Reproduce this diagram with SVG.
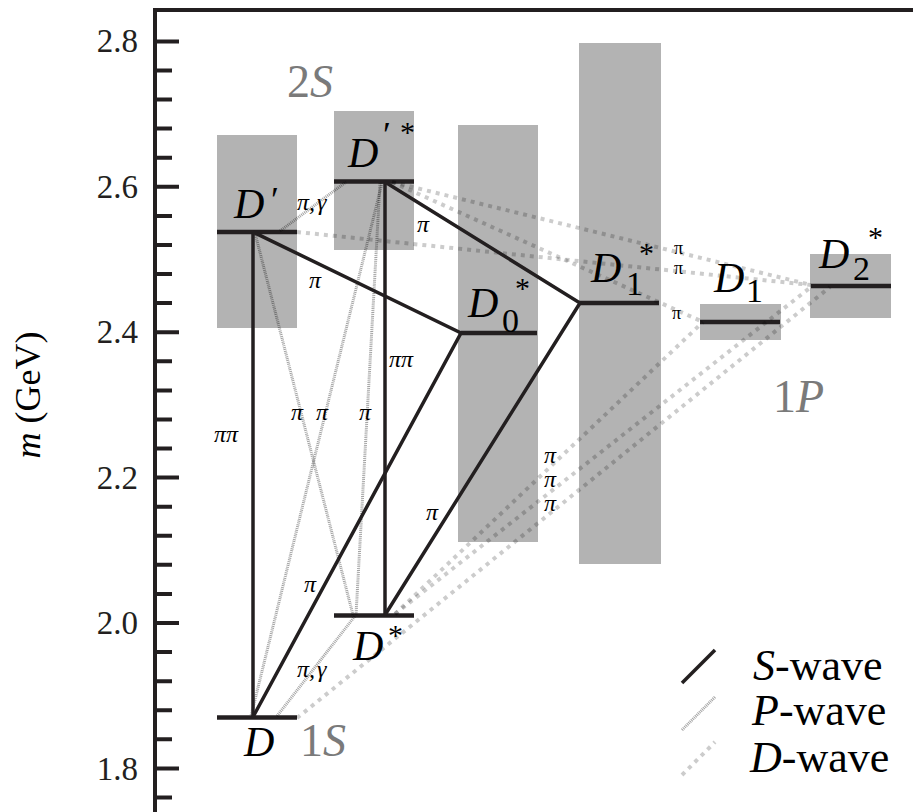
<svg xmlns="http://www.w3.org/2000/svg" width="913" height="812" viewBox="0 0 913 812">
<style>
.ax{stroke:#231f20;stroke-width:4;fill:none}
.box{fill:#b3b3b3}
.lvl{stroke:#231f20;stroke-width:4.5}
.s{stroke:#231f20;stroke-width:3.5;fill:none}
.p{stroke:#000;stroke-opacity:0.36;stroke-width:3;stroke-dasharray:1 0.9;fill:none}
.d{stroke:#000;stroke-opacity:0.2;stroke-width:4;stroke-dasharray:4 5;fill:none}
</style>

<g id="axes">
<path class="ax" d="M155 10 V812 M153 10 H913"/>
<path class="ax" d="M155 797.5h17M155 768.4h24M155 739.3h17M155 710.2h17M155 681.2h17M155 652.1h17M155 623h24M155 593.9h17M155 564.8h17M155 535.8h17M155 506.7h17M155 477.6h24M155 448.5h17M155 419.4h17M155 390.4h17M155 361.3h17M155 332.2h24M155 303.1h17M155 274h17M155 245h17M155 215.9h17M155 186.8h24M155 157.7h17M155 128.6h17M155 99.6h17M155 70.5h17M155 41.4h24"/>
<g font-family="Liberation Serif" font-size="33" fill="#231f20" text-anchor="end">
<text x="138" y="779.5">1.8</text>
<text x="138" y="634">2.0</text>
<text x="138" y="488.6">2.2</text>
<text x="138" y="343.2">2.4</text>
<text x="138" y="197.8">2.6</text>
<text x="138" y="52.4">2.8</text>
</g>
<text font-family="Liberation Serif" font-size="36" transform="translate(40,395) rotate(-90)" text-anchor="middle" fill="#000"><tspan font-style="italic">m</tspan> (GeV)</text>
</g>

<g id="group-labels" font-family="Liberation Serif" font-size="46" fill="#7a7a7a">
<text x="287" y="97">2<tspan font-style="italic">S</tspan></text>
<text x="300" y="756">1<tspan font-style="italic">S</tspan></text>
<text x="773" y="412">1<tspan font-style="italic">P</tspan></text>
</g>

<g id="node-Dp" font-family="Liberation Serif">
<rect class="box" x="217" y="135" width="80" height="193"/>
<line class="lvl" x1="217" y1="232" x2="297" y2="232"/>
<text font-style="italic" font-size="42" x="234" y="218">D</text>
<text font-size="36" x="271" y="212">′</text>
</g>

<g id="node-Dps" font-family="Liberation Serif">
<rect class="box" x="334" y="111" width="80" height="139"/>
<line class="lvl" x1="334" y1="181.5" x2="414" y2="181.5"/>
<text font-style="italic" font-size="42" x="348" y="167">D</text>
<text font-size="36" x="383" y="147">′</text>
<text font-size="30" x="400" y="142">*</text>
</g>

<g id="node-D0s" font-family="Liberation Serif">
<rect class="box" x="458" y="125" width="80" height="417"/>
<line class="lvl" x1="461" y1="333" x2="537" y2="333"/>
<text font-style="italic" font-size="42" x="468" y="317">D</text>
<text font-size="34" x="502" y="332">0</text>
<text font-size="30" x="515" y="298">*</text>
</g>

<g id="node-D1s" font-family="Liberation Serif">
<rect class="box" x="579" y="43" width="82" height="521"/>
<line class="lvl" x1="579" y1="303" x2="659" y2="303"/>
<text font-style="italic" font-size="42" x="591" y="282">D</text>
<text font-size="34" x="626" y="295">1</text>
<text font-size="30" x="639" y="263">*</text>
</g>

<g id="node-D1" font-family="Liberation Serif">
<rect class="box" x="700" y="304" width="81" height="36"/>
<line class="lvl" x1="700" y1="322" x2="780" y2="322"/>
<text font-style="italic" font-size="42" x="714" y="292">D</text>
<text font-size="34" x="746" y="302">1</text>
</g>

<g id="node-D2s" font-family="Liberation Serif">
<rect class="box" x="810" y="254" width="81" height="64"/>
<line class="lvl" x1="811" y1="286" x2="891" y2="286"/>
<text font-style="italic" font-size="42" x="819" y="268">D</text>
<text font-size="34" x="853" y="280">2</text>
<text font-size="30" x="868" y="247">*</text>
</g>

<g id="node-Ds" font-family="Liberation Serif">
<line class="lvl" x1="334" y1="615.5" x2="414" y2="615.5"/>
<text font-style="italic" font-size="42" x="353" y="660">D</text>
<text font-size="30" x="388" y="645">*</text>
</g>

<g id="node-D" font-family="Liberation Serif">
<line class="lvl" x1="217" y1="717.5" x2="297" y2="717.5"/>
<text font-style="italic" font-size="42" x="244" y="756">D</text>
</g>

<g id="connectors" font-family="Liberation Serif" font-size="24" font-style="italic">
<path class="d" d="M297 232 L811 285"/>
<path class="d" d="M392 182 L811 285"/>
<path class="d" d="M392 182 L703 322"/>
<path class="d" d="M297 718 L830 287"/>
<path class="d" d="M395 614 L811 287"/>
<path class="d" d="M395 614 L703 322"/>
<path class="p" d="M280 231 L346 182"/>
<path class="p" d="M277 716 L355 616"/>
<path class="p" d="M255 233 L353 615"/>
<path class="p" d="M382 183 L251 716"/>
<path class="p" d="M380 183 L356 615"/>
<path class="s" d="M253 232 V717"/>
<path class="s" d="M253 232 L461 333 L253 717"/>
<path class="s" d="M385 182 V615"/>
<path class="s" d="M385 182 L580 303 L385 615"/>
<text x="297" y="210">π,<tspan dx="2">γ</tspan></text>
<text x="417" y="232">π</text>
<text x="309" y="288">π</text>
<text x="389" y="367">ππ</text>
<text x="214" y="442">ππ</text>
<text x="291" y="420">π</text>
<text x="316" y="420">π</text>
<text x="359" y="420">π</text>
<text x="426" y="520">π</text>
<text x="304" y="592">π</text>
<text x="297" y="677">π,<tspan dx="2">γ</tspan></text>
<text x="544" y="463">π</text>
<text x="544" y="487">π</text>
<text x="544" y="511">π</text>
<text font-style="normal" font-size="18" x="674" y="254">π</text>
<text font-style="normal" font-size="18" x="674" y="274">π</text>
<text font-style="normal" font-size="18" x="672" y="319">π</text>
</g>

<g id="legend" font-family="Liberation Serif" font-size="44">
<line class="s" x1="682" y1="683" x2="715" y2="650"/>
<line class="p" x1="682" y1="730" x2="715" y2="697"/>
<line class="d" x1="682" y1="775" x2="715" y2="742"/>
<text x="753" y="680"><tspan font-style="italic">S</tspan>-wave</text>
<text x="752" y="725"><tspan font-style="italic">P</tspan>-wave</text>
<text x="750" y="772"><tspan font-style="italic">D</tspan>-wave</text>
</g>
</svg>
